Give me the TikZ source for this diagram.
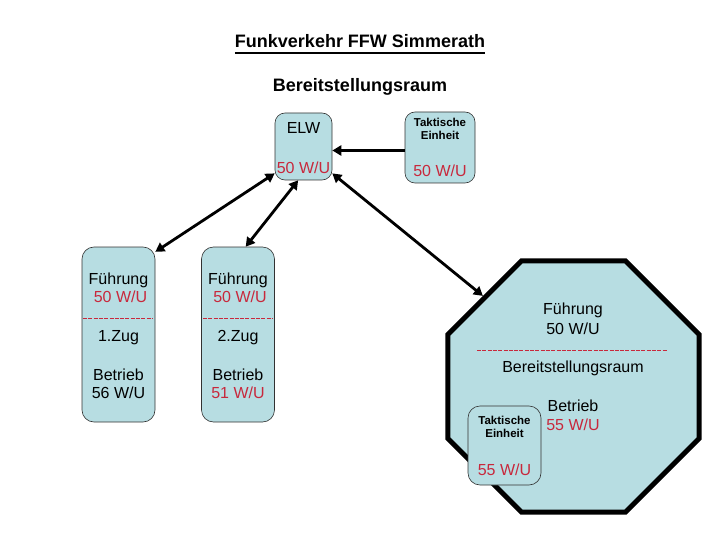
\documentclass[tikz,border=0pt]{standalone}
\usepackage{fontspec}
\setmainfont{Liberation Sans}
\usetikzlibrary{shapes.geometric, arrows.meta, positioning}
\definecolor{wured}{RGB}{200,40,60}
\definecolor{boxblue}{RGB}{183,221,226}
\definecolor{boxgray}{RGB}{50,50,50}
\tikzset{
  fwbox/.style={rectangle, draw=boxgray, fill=boxblue, rounded corners=10pt,
    line width=0.6pt, inner sep=0pt},
  txt/.style={anchor=base, inner sep=0pt, font=\fontsize{16}{18}\selectfont},
  redtxt/.style={txt, text=wured},
  smalltxt/.style={anchor=base, inner sep=0pt, font=\fontsize{11.5}{13}\selectfont\bfseries},
  titletxt/.style={anchor=base, inner sep=0pt, font=\fontsize{18}{21}\selectfont\bfseries},
  sepline/.style={draw=wured, line width=0.8pt, dash pattern=on 4pt off 1.3pt},
  arrow/.style={-{Triangle[length=9pt,width=10pt]}, line width=2.8pt},
  dblarrow/.style={{Triangle[length=9pt,width=10pt]}-{Triangle[length=9pt,width=10pt]}, line width=2.8pt}
}

\begin{document}
\begin{tikzpicture}[x=1pt, y=-1pt]
  \useasboundingbox (0,0) rectangle (720,540);

  % Titles
  \node[titletxt] (title) at (360,48) {Funkverkehr FFW Simmerath};
  \draw[line width=1.3pt] ([yshift=-5pt]title.base west) -- ([yshift=-5pt]title.base east);
  \node[titletxt] (subtitle) at (360,92) {Bereitstellungsraum};

  % ELW (top)
  \node[fwbox, minimum width=57pt, minimum height=67pt] (elw) at (303.5,146.5) {};
  \node[txt] (elw-name) at (303.5,134) {ELW};
  \node[redtxt] (elw-wu) at (303.5,174) {50 W/U};

  % Taktische Einheit (top right)
  \node[fwbox, minimum width=70pt, minimum height=71pt] (takt) at (440,147.5) {};
  \node[smalltxt] (takt-a) at (440,127) {Taktische};
  \node[smalltxt] (takt-b) at (440,140) {Einheit};
  \node[redtxt] (takt-wu) at (440,177) {50 W/U};

  % 1. Zug (left)
  \node[fwbox, rounded corners=12pt, minimum width=73pt, minimum height=175pt] (zug1) at (118.5,334.5) {};
  \node[txt] (zug1-fue) at (118.5,284) {Führung};
  \node[redtxt] (zug1-fwu) at (120.5,302) {50 W/U};
  \draw[sepline] (83,318) -- (153,318);
  \node[txt] (zug1-name) at (118.5,341) {1.Zug};
  \node[txt] (zug1-bet) at (118.5,380) {Betrieb};
  \node[txt] (zug1-bwu) at (118.5,398) {56 W/U};

  % 2. Zug (left)
  \node[fwbox, rounded corners=12pt, minimum width=73pt, minimum height=175pt] (zug2) at (238,334.5) {};
  \node[txt] (zug2-fue) at (238,284) {Führung};
  \node[redtxt] (zug2-fwu) at (240,302) {50 W/U};
  \draw[sepline] (203,318) -- (273,318);
  \node[txt] (zug2-name) at (238,341) {2.Zug};
  \node[txt] (zug2-bet) at (238,380) {Betrieb};
  \node[redtxt] (zug2-bwu) at (238,398) {51 W/U};

  % Bereitstellungsraum (octagon, right)
  \node[regular polygon, regular polygon sides=8, draw=black, fill=boxblue,
    line width=5pt, inner sep=0pt, minimum size=272pt] (octa) at (573.5,386.5) {};
  \node[txt] (octa-fue) at (573,314) {Führung};
  \node[txt] (octa-fwu) at (573,334) {50 W/U};
  \draw[sepline] (477,350) -- (667,350);
  \node[txt] (octa-name) at (573,372) {Bereitstellungsraum};
  \node[txt] (octa-bet) at (573,411) {Betrieb};
  \node[redtxt] (octa-bwu) at (573,430) {55 W/U};

  % Taktische Einheit (inside octagon)
  \node[fwbox, rounded corners=12pt, minimum width=73pt, minimum height=79pt] (takt2) at (504.5,445.5) {};
  \node[smalltxt] (takt2-a) at (504.5,424) {Taktische};
  \node[smalltxt] (takt2-b) at (504.5,437) {Einheit};
  \node[redtxt] (takt2-wu) at (504.5,475) {55 W/U};

  % Connections
  \draw[arrow] ([yshift=-3pt]takt.west) -- ([yshift=-3pt]takt.west -| elw.east);
  \draw[dblarrow] (elw.-137) -- (zug1.66);
  \draw[dblarrow] (elw.-99) -- (zug2.85);
  \draw[dblarrow] (elw.-43) -- (octa.135);
\end{tikzpicture}
\end{document}
